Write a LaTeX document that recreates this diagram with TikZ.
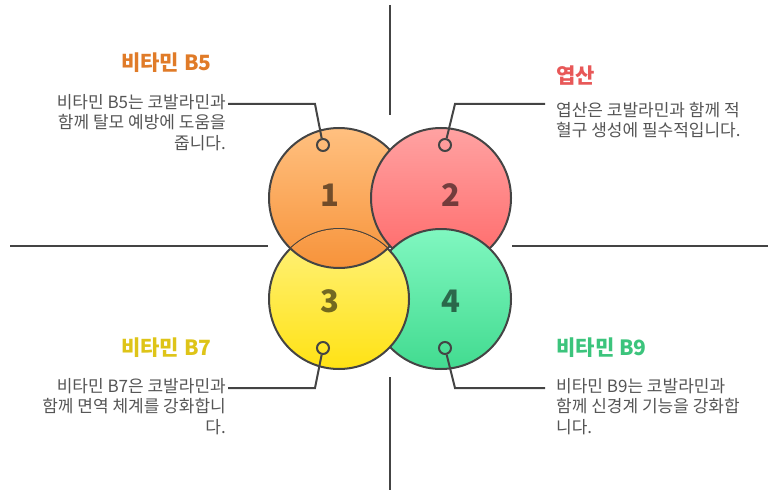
\documentclass[tikz,border=0pt]{standalone}
\usepackage{fontspec}
\setmainfont{Noto Sans CJK KR}
\usetikzlibrary{calc}
\definecolor{linec}{HTML}{444444}
\definecolor{txt}{HTML}{555555}
\definecolor{oT}{HTML}{FFC080}\definecolor{oB}{HTML}{F7933A}
\definecolor{rT}{HTML}{FFA2A2}\definecolor{rB}{HTML}{FF6868}
\definecolor{gT}{HTML}{80F7C0}\definecolor{gB}{HTML}{42DB90}
\definecolor{yT}{HTML}{FFF280}\definecolor{yB}{HTML}{FFE214}
\definecolor{t1c}{HTML}{E07B28}\definecolor{t2c}{HTML}{E85858}
\definecolor{t3c}{HTML}{DEC418}\definecolor{t4c}{HTML}{3CC47C}
\tikzset{
  big/.style={draw=linec,line width=2pt},
  lead/.style={draw=linec,line width=2pt},
  axis/.style={draw=linec,line width=2pt},
  dot/.style={circle,draw=linec,line width=2pt,fill=none,minimum size=12pt,inner sep=0pt},
  num/.style={font=\bfseries\fontsize{31}{34}\selectfont,text=black,text opacity=0.55},
  ttl/.style={font=\bfseries\fontsize{21}{24}\selectfont},
  bodyl/.style={font=\fontsize{17}{20.5}\selectfont,text=txt,align=right,anchor=north east,inner sep=0pt},
  bodyr/.style={font=\fontsize{17}{20.5}\selectfont,text=txt,align=left,anchor=north west,inner sep=0pt},
}
\begin{document}
\begin{tikzpicture}[x=1pt,y=-1pt]
\useasboundingbox (0,0) rectangle (770,497);
\draw[axis] (390,5) -- (390,115);
\draw[axis] (390,377) -- (390,490);
\draw[axis] (10,246) -- (268,246);
\draw[axis] (512,246) -- (768,246);
\def\R{70}
\fill[top color=oT,bottom color=oB] (339,198) circle (\R);
\draw[big] (339,198) circle (\R);
\fill[top color=rT,bottom color=rB] (441,198) circle (\R);
\draw[big] (441,198) circle (\R);
\fill[top color=gT,bottom color=gB] (441,299) circle (\R);
\draw[big] (441,299) circle (\R);
\fill[top color=yT,bottom color=yB] (339,299) circle (\R);
\draw[big] (339,299) circle (\R);
\begin{scope}
\clip (339,299) circle (\R);
\fill[top color=oT,bottom color=oB] (339,198) circle (\R);
\draw[big] (339,198) circle (\R);
\end{scope}
\node[num] (n1) at (330,195) {1};
\node[num] (n2) at (451,195) {2};
\node[num] (n3) at (330,301) {3};
\node[num] (n4) at (451,301) {4};
\node[dot] (d1) at (323,145) {};
\node[dot] (d2) at (445,145) {};
\node[dot] (d3) at (323,348) {};
\node[dot] (d4) at (445,348) {};
\coordinate (k1) at (315,104); \coordinate (e1) at (228,104);
\coordinate (k2) at (455,104); \coordinate (e2) at (545,104);
\coordinate (k3) at (315,388); \coordinate (e3) at (228,388);
\coordinate (k4) at (455,388); \coordinate (e4) at (545,388);
\draw[lead] (d1) -- (k1) -- (e1);
\draw[lead] (d2) -- (k2) -- (e2);
\draw[lead] (d3) -- (k3) -- (e3);
\draw[lead] (d4) -- (k4) -- (e4);
\node[ttl,text=t1c,anchor=east] (t1) at (215,63) {비타민 B5};
\node[ttl,text=t2c,anchor=west] (t2) at (553,76) {엽산};
\node[ttl,text=t3c,anchor=east] (t3) at (215,348) {비타민 B7};
\node[ttl,text=t4c,anchor=west] (t4) at (553,348) {비타민 B9};
\node[bodyl] (b1) at (226,94) {비타민 B5는 코발라민과\\함께 탈모 예방에 도움을\\줍니다.};
\node[bodyr] (b2) at (556,102) {엽산은 코발라민과 함께 적\\혈구 생성에 필수적입니다.};
\node[bodyl] (b3) at (226,378) {비타민 B7은 코발라민과\\함께 면역 체계를 강화합니\\다.};
\node[bodyr] (b4) at (556,378) {비타민 B9는 코발라민과\\함께 신경계 기능을 강화합\\니다.};
\end{tikzpicture}
\end{document}
